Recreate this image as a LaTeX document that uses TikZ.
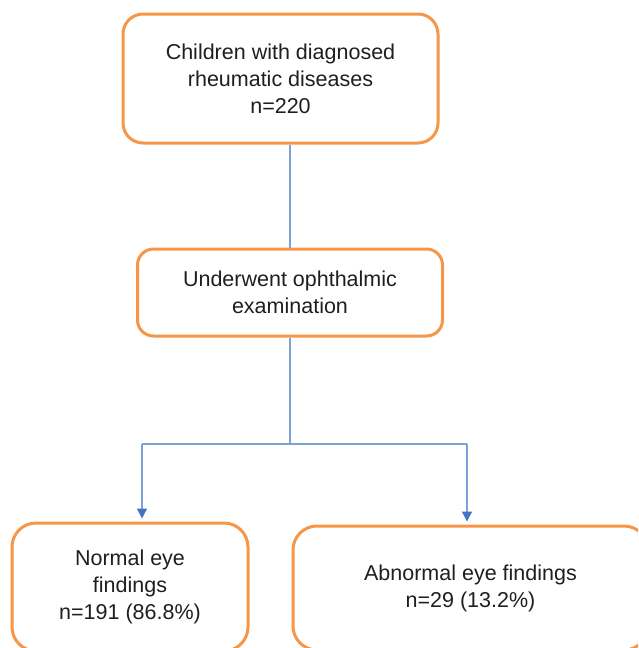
\documentclass[tikz,border=0pt]{standalone}
\usepackage{fontspec}
\setmainfont{Liberation Sans}
\usetikzlibrary{arrows.meta}
\definecolor{boxorange}{HTML}{F79646}
\definecolor{linkblue}{HTML}{7EA1D3}
\definecolor{tipblue}{HTML}{4472C4}
\definecolor{textgray}{HTML}{1F1F1F}
\begin{document}
\begin{tikzpicture}[x=1pt, y=-1pt,
  box/.style={draw=boxorange, line width=3pt, rounded corners=20pt, fill=white,
    align=center, text=textgray, inner sep=0pt,
    font=\fontsize{21.5}{27}\selectfont},
  link/.style={draw=linkblue, line width=1.4pt},
  arrowlink/.style={link, -{Triangle[width=10pt, length=10pt, color=tipblue]}, shorten >=3pt}]
  % Page frame
  \useasboundingbox (0,0) rectangle (638,648);
  \clip (0,0) rectangle (638,648);
  % Boxes
  \node[box, minimum width=315, minimum height=129] (children) at (280.5,78.5)
    {Children with diagnosed\\rheumatic diseases\\n=220};
  \node[box, minimum width=305, minimum height=87, rounded corners=16pt] (exam) at (290,292.5)
    {Underwent ophthalmic\\examination};
  \node[box, minimum width=236, minimum height=128, rounded corners=24pt] (normal) at (130,587)
    {Normal eye\\findings\\n=191 (86.8\%)};
  \node[box, minimum width=355, minimum height=124, rounded corners=24pt] (abnormal) at (470.5,588)
    {Abnormal eye findings\\n=29 (13.2\%)};
  % Branch points
  \coordinate (fork) at (290,444);
  \coordinate (forkL) at (142,444);
  \coordinate (forkR) at (467,444);
  % Connectors
  \draw[link] (children.south -| exam.north) -- (exam.north);
  \draw[link] (exam.south) -- (fork);
  \draw[link] (forkL) -- (forkR);
  \draw[arrowlink] (forkL) -- (forkL |- normal.north);
  \draw[arrowlink] (forkR) -- (forkR |- abnormal.north);
\end{tikzpicture}
\end{document}
